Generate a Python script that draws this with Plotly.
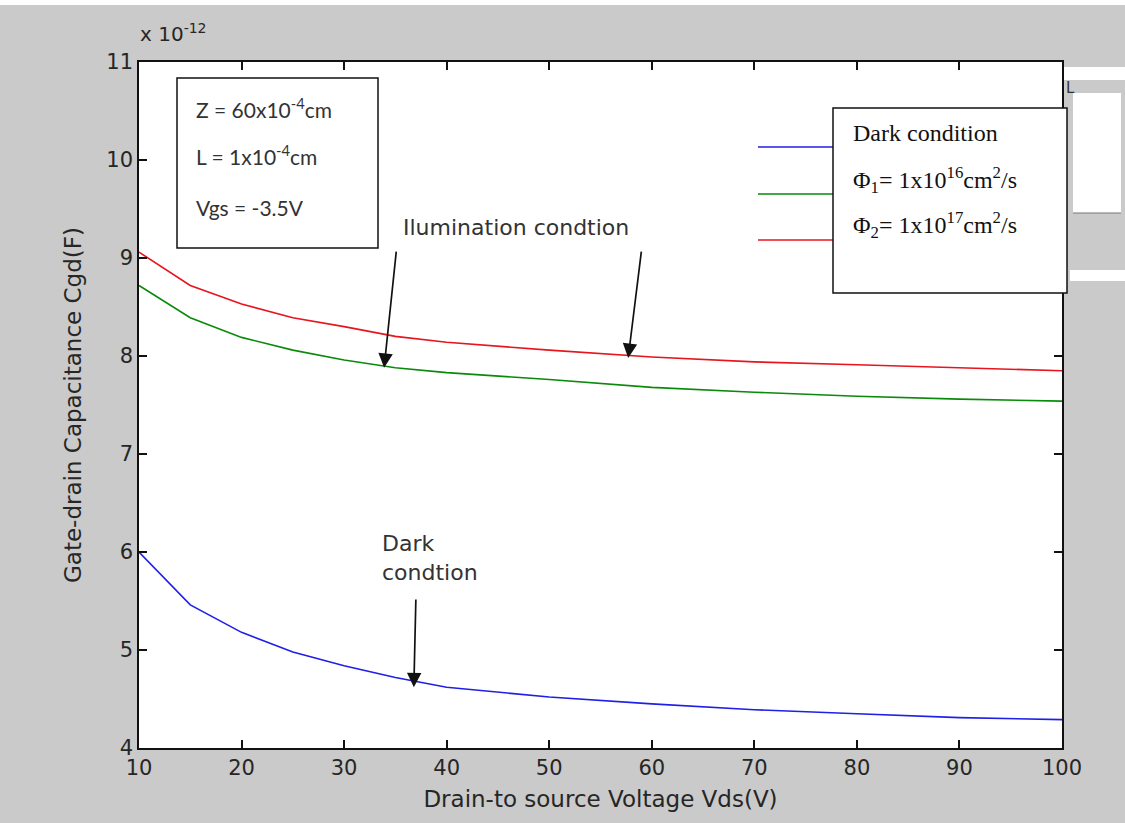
import plotly.graph_objects as go

# Drain-source voltage samples (V)
vds = [10, 15, 20, 25, 30, 35, 40, 50, 60, 70, 80, 90, 100]

# Gate-drain capacitance, in units of 1e-12 F
cgd_dark = [6.00, 5.46, 5.18, 4.98, 4.84, 4.72, 4.62, 4.52, 4.45, 4.39, 4.35, 4.31, 4.29]
cgd_phi1 = [8.72, 8.39, 8.19, 8.06, 7.96, 7.88, 7.83, 7.76, 7.68, 7.63, 7.59, 7.56, 7.54]
cgd_phi2 = [9.06, 8.72, 8.53, 8.39, 8.30, 8.20, 8.14, 8.06, 7.99, 7.94, 7.91, 7.88, 7.85]

x_ticks = [10, 20, 30, 40, 50, 60, 70, 80, 90, 100]
y_ticks = [4, 5, 6, 7, 8, 9, 10, 11]

series_names = ["Dark condition", "Φ1 = 1x10^16 cm^2/s", "Φ2 = 1x10^17 cm^2/s"]
series_colors = ["#1f1fe8", "#0a8a0a", "#e8141e"]

W, H = 1125, 823
L, R, T, B = 139, 63, 62, 75
PW, PH = W - L - R, H - T - B


def px(xp):
    return (xp - L) / PW


def py(yp):
    return (H - B - yp) / PH


fig = go.Figure()
for name, ys, col in zip(series_names, [cgd_dark, cgd_phi1, cgd_phi2], series_colors):
    fig.add_trace(go.Scatter(x=vds, y=ys, mode="lines", name=name,
                             line=dict(color=col, width=1.6), showlegend=False))

tick_font = dict(family="DejaVu Sans", size=21, color="#262626")
axis_common = dict(showgrid=False, zeroline=False, showline=True, linecolor="#111",
                   linewidth=1.5, mirror="ticks", ticks="inside", ticklen=8,
                   tickcolor="#111", tickwidth=1.5, tickfont=tick_font)

fig.update_xaxes(range=[10, 100], tickvals=x_ticks, **axis_common,
                 title=dict(text="Drain-to source Voltage Vds(V)",
                            font=dict(family="DejaVu Sans", size=23, color="#262626"),
                            standoff=12))
fig.update_yaxes(range=[4, 11], tickvals=y_ticks, **axis_common,
                 title=dict(text="Gate-drain Capacitance Cgd(F)",
                            font=dict(family="DejaVu Sans", size=23, color="#262626"),
                            standoff=18))

shapes = []
# white strip along the top edge
shapes.append(dict(type="rect", xref="paper", yref="paper", x0=px(0), x1=px(W),
                   y0=py(5), y1=py(0), fillcolor="white", line=dict(width=0), layer="below"))
# white patches to the right of the axes
for (xa, ya, xb, yb) in [(1063, 67, W, 80), (1073, 93, 1121, 213), (1070, 270, W, 281)]:
    shapes.append(dict(type="rect", xref="paper", yref="paper", x0=px(xa), x1=px(xb),
                       y0=py(yb), y1=py(ya), fillcolor="white", line=dict(width=0), layer="below"))
shapes.append(dict(type="line", xref="paper", yref="paper", x0=px(1073), x1=px(1121),
                   y0=py(213), y1=py(213), line=dict(color="#777", width=1.2)))

# parameter box
shapes.append(dict(type="rect", xref="paper", yref="paper", x0=px(177), x1=px(378),
                   y0=py(248), y1=py(78), fillcolor="white", line=dict(color="#111", width=1.5)))
# legend line samples and box
for col, yl in zip(series_colors, [147, 194, 240]):
    shapes.append(dict(type="line", xref="paper", yref="paper", x0=px(758), x1=px(833),
                       y0=py(yl), y1=py(yl), line=dict(color=col, width=1.6)))
shapes.append(dict(type="rect", xref="paper", yref="paper", x0=px(833), x1=px(1067),
                   y0=py(293), y1=py(108), fillcolor="white", line=dict(color="#111", width=1.5)))
fig.update_layout(shapes=shapes)

ann = []
sans = dict(family="Lato", size=21, color="#333")
for txt, yc in [("Z = 60x10<sup>-4</sup>cm", 108), ("L = 1x10<sup>-4</sup>cm", 155),
                ("Vgs = -3.5V", 207)]:
    ann.append(dict(xref="paper", yref="paper", x=px(194), y=py(yc), text=txt,
                    showarrow=False, xanchor="left", yanchor="middle", font=sans))

serif = dict(family="Liberation Serif", size=24, color="#111")
for txt, yc in [("Dark condition", 133),
                ("Φ<sub>1</sub>= 1x10<sup>16</sup>cm<sup>2</sup>/s", 180),
                ("Φ<sub>2</sub>= 1x10<sup>17</sup>cm<sup>2</sup>/s", 225)]:
    ann.append(dict(xref="paper", yref="paper", x=px(851), y=py(yc), text=txt,
                    showarrow=False, xanchor="left", yanchor="middle", font=serif))

ann.append(dict(xref="paper", yref="paper", x=px(138), y=py(48), text="x 10<sup>-12</sup>",
                showarrow=False, xanchor="left", yanchor="bottom",
                font=dict(family="DejaVu Sans", size=20, color="#262626")))
ann.append(dict(xref="paper", yref="paper", x=px(1064), y=py(88), text="L",
                showarrow=False, xanchor="left", yanchor="middle",
                font=dict(family="DejaVu Sans", size=15, color="#333")))

label_font = dict(family="DejaVu Sans", size=22, color="#333")
ann.append(dict(xref="paper", yref="paper", x=px(516), y=py(228), text="Ilumination condtion",
                showarrow=False, xanchor="center", yanchor="middle", font=label_font))
ann.append(dict(xref="paper", yref="paper", x=px(380), y=py(558), text="Dark<br>condtion",
                showarrow=False, xanchor="left", yanchor="middle", align="left",
                font=label_font))

# arrows pointing at the curves (head, tail) in data units
arrows = [((33.9, 7.88), (35.1, 9.08)),
          ((57.7, 7.98), (59.0, 9.08)),
          ((36.8, 4.62), (37.0, 5.53))]
for (hx, hy), (tx, ty) in arrows:
    ann.append(dict(x=hx, y=hy, ax=tx, ay=ty, xref="x", yref="y", axref="x", ayref="y",
                    text="", showarrow=True, arrowhead=2, arrowsize=1.7, arrowwidth=1.7,
                    arrowcolor="#111"))
fig.update_layout(annotations=ann)

fig.update_layout(width=W, height=H, margin=dict(l=L, r=R, t=T, b=B),
                  paper_bgcolor="#cacaca", plot_bgcolor="white", showlegend=False)

fig.write_html("out.html")
